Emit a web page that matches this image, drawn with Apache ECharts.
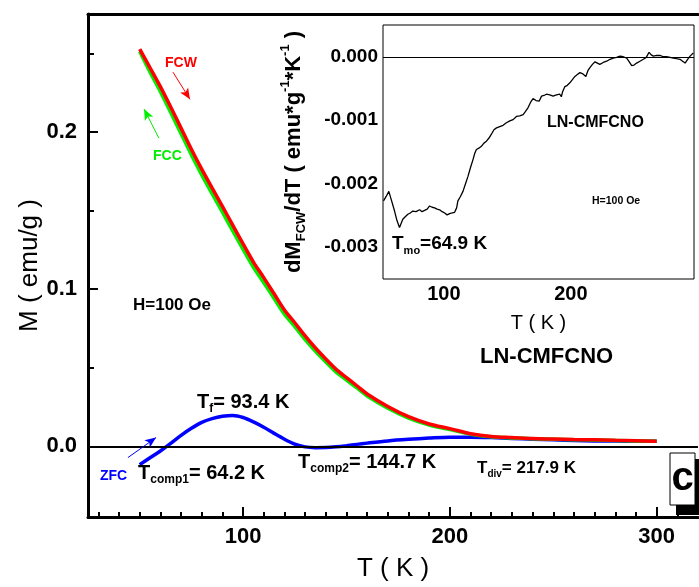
<!DOCTYPE html>
<html>
<head>
<meta charset="utf-8">
<script src="https://cdn.jsdelivr.net/npm/echarts@6/dist/echarts.min.js"></script>
<style>
html, body { margin: 0; padding: 0; background: #fff; }
#main { width: 699px; height: 587px; }
</style>
</head>
<body>
<div id="main"></div>
<script>
// main panel: M(T) curves
var tempK = [50, 55, 60, 65, 70, 75, 80, 85, 90, 95, 100, 105, 110, 115, 120, 125, 130, 135, 140, 145,
    150, 155, 160, 170, 180, 190, 200, 210, 220, 230, 240, 250, 260, 270, 280, 290, 300];
var mFCW = [0.2527, 0.2408, 0.2288, 0.2158, 0.2024, 0.1890, 0.1763, 0.1644, 0.1526, 0.1407, 0.1287, 0.1172,
    0.1073, 0.0970, 0.0867, 0.0786, 0.0702, 0.0625, 0.0555, 0.0489, 0.0437, 0.0385, 0.0333, 0.0253, 0.0188,
    0.0142, 0.0112, 0.0080, 0.0062, 0.0055, 0.0049, 0.0046, 0.0043, 0.0041, 0.0038, 0.0035, 0.0032];
var mFCC = [0.2512, 0.2380, 0.2256, 0.2123, 0.1988, 0.1854, 0.1727, 0.1607, 0.1489, 0.1370, 0.1252, 0.1138,
    0.1040, 0.0940, 0.0840, 0.0761, 0.0679, 0.0604, 0.0536, 0.0471, 0.0421, 0.0371, 0.0320, 0.0242, 0.0179,
    0.0135, 0.0106, 0.0077, 0.0060, 0.0053, 0.0048, 0.0045, 0.0042, 0.0040, 0.0037, 0.0034, 0.0032];
var mZFC = [-0.0117, -0.0073, -0.0030, 0.0018, 0.0069, 0.0114, 0.0152, 0.0176, 0.0191, 0.0196, 0.0183, 0.0155,
    0.0121, 0.0082, 0.0045, 0.0014, -0.0004, -0.0009, -0.0008, -0.0003, 0.0004, 0.0012, 0.0020, 0.0034, 0.0044,
    0.0052, 0.0058, 0.0058, 0.0055, 0.0050, 0.0045, 0.0041, 0.0037, 0.0034, 0.0033, 0.0032, 0.0032];

// inset: dM_FCW/dT
var insetT = [52.4, 54.5, 56.6, 58.5, 61.1, 63.0, 65.0, 67.6, 69.5, 71.6, 73.5, 75.5, 78.0, 80.8, 82.8, 84.8,
    86.8, 88.7, 90.7, 92.7, 94.6, 96.6, 98.6, 100.6, 102.5, 104.5, 106.5, 108.4, 110.0, 111.0, 113.0, 115.0,
    117.0, 119.0, 121.0, 122.9, 124.3, 125.6, 127.5, 129.5, 131.5, 133.5, 135.5, 137.4, 139.4, 141.4, 144.0,
    146.6, 149.2, 151.9, 154.5, 157.1, 159.7, 162.4, 164.3, 166.3, 168.2, 170.2, 172.6, 175.0, 176.9, 178.8,
    180.8, 183.4, 186.0, 188.6, 191.3, 192.5, 193.5, 195.3, 197.2, 199.2, 201.2, 203.2, 205.1, 207.1, 209.5,
    211.8, 213.4, 215.0, 217.0, 219.0, 220.9, 222.8, 225.5, 228.2, 230.8, 233.4, 236.0, 238.7, 241.3, 244.0,
    246.0, 247.9, 249.8, 251.8, 254.4, 257.1, 259.4, 261.6, 263.3, 265.0, 267.6, 270.2, 272.8, 275.5, 278.1,
    280.7, 283.3, 286.0, 288.0, 290.0, 292.0, 293.9, 296.5];
var insetV = [-0.00227, -0.00220, -0.00212, -0.00225, -0.00243, -0.00258, -0.00269, -0.00256, -0.00252,
    -0.00248, -0.00246, -0.00243, -0.00244, -0.00241, -0.00244, -0.00242, -0.00240, -0.00235, -0.00237,
    -0.00238, -0.00240, -0.00241, -0.00244, -0.00246, -0.00249, -0.00247, -0.00246, -0.00245, -0.00238,
    -0.00227, -0.00220, -0.00212, -0.00200, -0.00188, -0.00174, -0.00162, -0.00152, -0.00146, -0.00144,
    -0.00141, -0.00136, -0.00133, -0.00128, -0.00122, -0.00115, -0.00112, -0.00110, -0.00108, -0.00104,
    -0.00101, -0.00099, -0.00094, -0.00093, -0.00091, -0.00086, -0.00080, -0.00072, -0.00066, -0.00069,
    -0.00070, -0.00062, -0.00061, -0.00059, -0.00060, -0.00062, -0.00060, -0.00059, -0.00063, -0.00055,
    -0.00047, -0.00045, -0.00041, -0.00036, -0.00031, -0.00028, -0.00025, -0.00027, -0.00031, -0.00022,
    -0.00017, -0.00012, -0.00008, -0.00010, -0.00012, -0.00009, -0.00007, -0.00004, -0.00002, -0.00001,
    0.00001, 0.00000, -0.00002, -0.00008, -0.00014, -0.00013, -0.00010, -0.00007, -0.00004, -0.00001,
    0.00007, 0.00003, 0.00001, 0.00002, 0.00002, 0.00000, 0.00000, -0.00001, -0.00002, -0.00003, -0.00004,
    -0.00007, -0.00010, -0.00004, 0.00001, 0.00006];

// ticks
var mainXLabels = [100, 200, 300];
var mainXMinor = [30, 40, 50, 60, 70, 80, 90, 110, 120, 130, 140, 150, 160, 170, 180, 190,
    210, 220, 230, 240, 250, 260, 270, 280, 290, 310];
var mainYLabels = [0, 0.1, 0.2];
var mainYMinor = [0.05, 0.15, 0.25];
var insetXLabels = [100, 200];
var insetXTicks = [60, 70, 80, 90, 100, 110, 120, 130, 140, 150, 160, 170, 180, 190, 200,
    210, 220, 230, 240, 250, 260, 270, 280, 290];
var insetYLabels = [-0.003, -0.002, -0.001, 0];
var insetYTicks = [-0.003, -0.0025, -0.002, -0.0015, -0.001, -0.0005, 0];

var FONT = 'Arial, "Liberation Sans", sans-serif';
var MAIN_BOX = { left: 88, top: 14, right: 1, bottom: 70 };
var INSET_BOX = { left: 383, top: 25, width: 311, height: 254 };

function pairs(xs, ys) {
    var out = [];
    for (var i = 0; i < xs.length; i++) out.push([xs[i], ys[i]]);
    return out;
}

function arrow(from, to, color) {
    return [
        { coord: from, symbol: 'none', lineStyle: { color: color, width: 1, type: 'solid' } },
        { coord: to, symbol: 'arrow', symbolSize: [7, 11] }
    ];
}

// rich text for sub / superscripts (color for echarts labels, fill for graphic text)
function rich(size, sub, color) {
    var c = color || '#000';
    return {
        t: { fontSize: size, fontWeight: 'bold', fontFamily: FONT, color: c, fill: c, lineHeight: size * 1.3, verticalAlign: 'middle' },
        s: { fontSize: sub, fontWeight: 'bold', fontFamily: FONT, color: c, fill: c, lineHeight: sub, verticalAlign: 'bottom' },
        p: { fontSize: sub, fontWeight: 'bold', fontFamily: FONT, color: c, fill: c, lineHeight: sub, verticalAlign: 'top' }
    };
}

function label(x, y, text, size, sub, color) {
    return {
        type: 'text', x: x, y: y, silent: true, z: 100,
        style: { text: text, rich: rich(size, sub, color), fill: color || '#000', align: 'left', verticalAlign: 'middle' }
    };
}

// axis that only draws ticks
function tickAxis(grid, min, max, values, len, width) {
    return {
        type: 'value', gridIndex: grid, min: min, max: max,
        splitLine: { show: false }, axisLine: { show: false, onZero: false }, axisLabel: { show: false },
        axisTick: { show: true, inside: true, length: len, customValues: values, lineStyle: { color: '#000', width: width } }
    };
}

var chart = echarts.init(document.getElementById('main'));

var option = {
    animation: false,
    backgroundColor: '#fff',
    grid: [
        MAIN_BOX,
        Object.assign({ show: true, borderColor: '#000', borderWidth: 1, backgroundColor: '#fff', z: 5 }, INSET_BOX),
        MAIN_BOX,
        MAIN_BOX,
        INSET_BOX
    ],
    xAxis: [
        {
            type: 'value', gridIndex: 0, min: 25, max: 320,
            splitLine: { show: false },
            axisLine: { onZero: false, lineStyle: { color: '#000', width: 3 } },
            axisTick: { show: false },
            axisLabel: { customValues: mainXLabels, fontSize: 22, fontWeight: 'bold', fontFamily: FONT, color: '#000', margin: 9 },
            name: 'T ( K )', nameLocation: 'middle', nameGap: 39, nameMoveOverlap: false,
            nameTextStyle: { fontSize: 26, fontFamily: FONT, color: '#000' }
        },
        {
            type: 'value', gridIndex: 0, min: 25, max: 320, position: 'top',
            splitLine: { show: false },
            axisLine: { onZero: false, lineStyle: { color: '#000', width: 3 } },
            axisTick: { show: false }, axisLabel: { show: false }
        },
        {
            type: 'value', gridIndex: 1, min: 52, max: 297,
            splitLine: { show: false }, axisLine: { show: false, onZero: false },
            axisTick: { show: false },
            axisLabel: { customValues: insetXLabels, fontSize: 20, fontWeight: 'bold', fontFamily: FONT, color: '#000', margin: 5 },
            name: 'T ( K )', nameLocation: 'middle', nameGap: 34, nameMoveOverlap: false,
            nameTextStyle: { fontSize: 20, fontFamily: FONT, color: '#000' }
        },
        tickAxis(2, 25, 320, mainXLabels, 10, 2),
        tickAxis(3, 25, 320, mainXMinor, 5, 2),
        tickAxis(4, 52, 297, insetXTicks, 4, 1)
    ],
    yAxis: [
        {
            type: 'value', gridIndex: 0, min: -0.045, max: 0.275,
            splitLine: { show: false },
            axisLine: { onZero: false, lineStyle: { color: '#000', width: 3 } },
            axisTick: { show: false },
            axisLabel: {
                customValues: mainYLabels, fontSize: 22, fontWeight: 'bold', fontFamily: FONT, color: '#000', margin: 11,
                formatter: function (v) { return v.toFixed(1); }
            },
            name: 'M ( emu/g )', nameLocation: 'middle', nameGap: 45, nameMoveOverlap: false,
            nameTextStyle: { fontSize: 26, fontFamily: FONT, color: '#000' }
        },
        {
            type: 'value', gridIndex: 1, min: -0.0035, max: 0.0005,
            splitLine: { show: false }, axisLine: { show: false, onZero: false },
            axisTick: { show: false },
            axisLabel: {
                customValues: insetYLabels, fontSize: 19, fontWeight: 'bold', fontFamily: FONT, color: '#000', margin: 5,
                formatter: function (v) { return v.toFixed(3); }
            },
            name: '{t|dM}{s|FCW}{t|/dT ( emu*g}{p|-1}{t|*K}{p|-1}{t| )}',
            nameLocation: 'middle', nameGap: 75, nameMoveOverlap: false,
            nameTextStyle: { rich: rich(22, 13) }
        },
        tickAxis(2, -0.045, 0.275, mainYLabels, 10, 2),
        tickAxis(3, -0.045, 0.275, mainYMinor, 6, 2),
        tickAxis(4, -0.0035, 0.0005, insetYTicks, 4, 1)
    ],
    series: [
        {
            name: 'ZFC', type: 'line', xAxisIndex: 0, yAxisIndex: 0,
            data: pairs(tempK, mZFC), showSymbol: false, smooth: 0.3,
            lineStyle: { color: '#0000ff', width: 3.5 },
            markLine: {
                silent: true, symbol: 'none', label: { show: false },
                lineStyle: { type: 'solid' },
                data: [
                    { yAxis: 0, lineStyle: { color: '#000', width: 2, type: 'solid' } },
                    arrow([44.3, -0.0072], [57.9, 0.0055], '#0000ff')
                ]
            }
        },
        {
            name: 'FCC', type: 'line', xAxisIndex: 0, yAxisIndex: 0,
            data: pairs(tempK, mFCC), showSymbol: false, smooth: 0.3,
            lineStyle: { color: '#00ee00', width: 3.5 },
            markLine: {
                silent: true, symbol: 'none', label: { show: false }, lineStyle: { type: 'solid' },
                data: [arrow([59.3, 0.196], [52.1, 0.2145], '#00ee00')]
            }
        },
        {
            name: 'FCW', type: 'line', xAxisIndex: 0, yAxisIndex: 0,
            data: pairs(tempK, mFCW), showSymbol: false, smooth: 0.3,
            lineStyle: { color: '#ff0000', width: 3.5 },
            markLine: {
                silent: true, symbol: 'none', label: { show: false }, lineStyle: { type: 'solid' },
                data: [arrow([66.1, 0.238], [74.3, 0.2207], '#ff0000')]
            }
        },
        {
            name: 'dM/dT', type: 'line', xAxisIndex: 2, yAxisIndex: 1, z: 10,
            data: pairs(insetT, insetV), showSymbol: false,
            lineStyle: { color: '#000', width: 1.3 },
            markLine: {
                silent: true, symbol: 'none', label: { show: false },
                lineStyle: { color: '#000', width: 1, type: 'solid' },
                data: [{ yAxis: 0 }]
            }
        }
    ],
    graphic: [
        label(165, 63, '{t|FCW}', 14, 9, '#ff0000'),
        label(153, 156, '{t|FCC}', 14, 9, '#00ee00'),
        label(133, 305, '{t|H=100 Oe}', 17, 10),
        label(197, 402, '{t|T}{s|f}{t|= 93.4 K}', 20, 12),
        label(100, 476, '{t|ZFC}', 14, 9, '#0000ff'),
        label(138, 473, '{t|T}{s|comp1}{t|= 64.2 K}', 20, 12),
        label(298, 462, '{t|T}{s|comp2}{t|= 144.7 K}', 20, 12),
        label(477, 468, '{t|T}{s|div}{t|= 217.9 K}', 17, 10),
        label(480, 357, '{t|LN-CMFCNO}', 22, 12),
        label(547, 123, '{t|LN-CMFCNO}', 16, 10),
        label(592, 201, '{t|H=100 Oe}', 10.5, 7),
        label(392, 244, '{t|T}{s|mo}{t|=64.9 K}', 19, 11),
        { type: 'rect', shape: { x: 676, y: 459, width: 24, height: 56 }, style: { fill: '#000' }, z: 90, silent: true },
        { type: 'rect', shape: { x: 670, y: 453, width: 25, height: 52 }, style: { fill: '#fff', stroke: '#000', lineWidth: 1 }, z: 91, silent: true },
        {
            type: 'text', x: 682.5, y: 479, z: 92, silent: true,
            style: { text: 'c', fontSize: 40, fontWeight: 'bold', fontFamily: FONT, fill: '#000', align: 'center', verticalAlign: 'middle' }
        }
    ]
};

chart.setOption(option);
</script>
</body>
</html>
